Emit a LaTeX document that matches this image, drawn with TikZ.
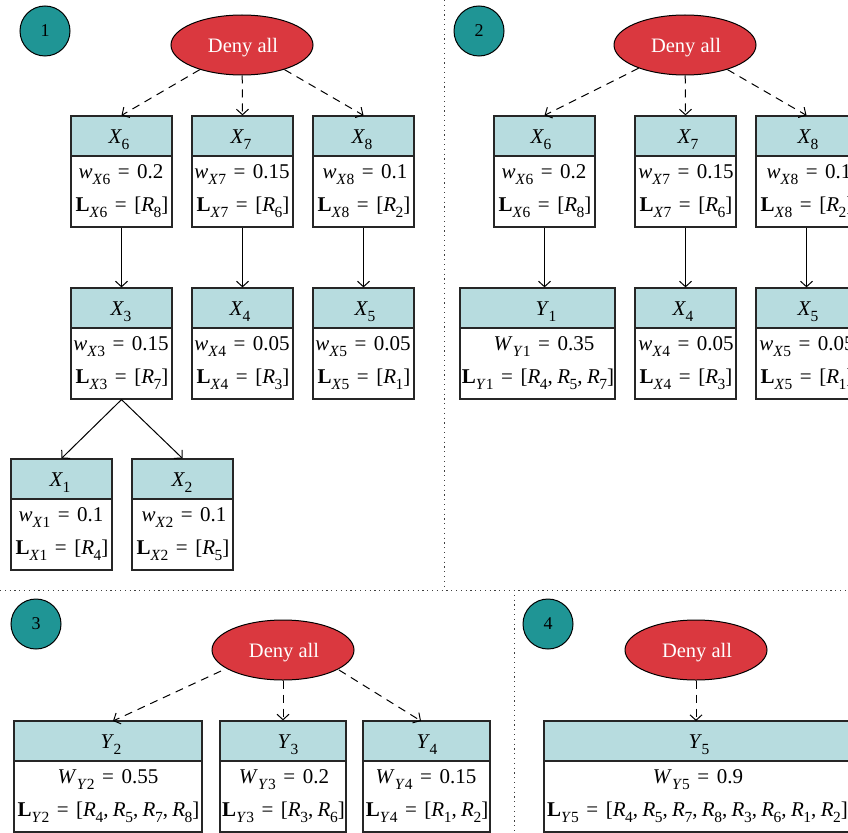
\documentclass[tikz,border=0pt]{standalone}
\usepackage{fontspec}
\setmainfont{Liberation Serif}
\usetikzlibrary{arrows.meta,shapes.geometric}
\definecolor{tealc}{HTML}{1F9595}
\definecolor{redc}{HTML}{DA383F}
\definecolor{headc}{HTML}{B7DCDF}
\newcommand\sbs[1]{\raisebox{-0.3em}{\fontsize{15.5}{15.5}\selectfont #1}}
\newcommand\XX[1]{\textit{X}\kern-0.5pt\sbs{#1}}
\newcommand\YY[1]{\textit{Y}\kern-0.5pt\sbs{#1}}
\newcommand\RR[1]{\textit{R}\kern-0.5pt\sbs{#1}}
\newcommand\cm{,\kern4.4pt}
\newcommand\eqs{\hspace{0.36em}=\hspace{0.36em}}
\newcommand\ww[3]{\textit{#1}\sbs{\textit{#2}#3}}
\newcommand\LL[2]{\textbf{L}\sbs{\textit{#1}#2}}
\newcommand\denytext{\raisebox{-2.5pt}[\height][\depth]{\kern2pt Deny all}}
\tikzset{
  x=1pt,y=-1pt,
  every node/.style={font=\fontsize{21}{21}\selectfont},
  boxh/.style={draw=black!85,line width=1.2pt,fill=headc,inner sep=0pt,rectangle},
  boxb/.style={draw=black!85,line width=1.2pt,fill=white,inner sep=0pt,rectangle},
  celltext/.style={inner sep=0pt,anchor=base},
  deny/.style={ellipse,draw=black,line width=1pt,fill=redc,text=white,minimum width=142pt,minimum height=60pt,inner sep=0pt,font=\fontsize{20.5}{20.5}\selectfont},
  badge/.style={circle,draw=black,line width=1pt,fill=tealc,minimum size=50pt,inner sep=0pt,font=\fontsize{18}{18}\selectfont},
  dasharrow/.style={line width=1pt,dash pattern=on 8pt off 6pt,-{Straight Barb[length=5.5pt,width=12pt,line width=1pt]}},
  solidarrow/.style={line width=1pt,-{Straight Barb[length=5.5pt,width=12pt,line width=1pt]}},
  sep/.style={line width=1pt,dash pattern=on 1.2pt off 3.6pt,black!75},
}
% name, xl, xr, ytop, header x, W x, header, line 1, line 2
\newcommand\tbl[9]{%
  \node[boxb,minimum width={#3-#2},minimum height=71pt] (#1b) at ({(#2+#3)/2},#4+75.5) {};
  \node[boxh,minimum width={#3-#2},minimum height=40pt] (#1) at ({(#2+#3)/2},#4+20) {};
  \node[celltext] (#1t) at (#5,#4+27) {#7};
  \node[celltext] (#1w) at (#6,#4+62) {#8};
  \node[celltext] (#1l) at ({(#2+#3)/2+0.5},#4+95) {#9};
}
\begin{document}
\begin{tikzpicture}
\useasboundingbox (0,0) rectangle (848,832);
\fill[white] (0,0) rectangle (848,832);
% separators
\coordinate (s1) at (444,0); \coordinate (s2) at (444,590);
\coordinate (s3) at (0,590); \coordinate (s4) at (848,590);
\coordinate (s5) at (514,590); \coordinate (s6) at (514,832);
\draw[sep] (s1) -- (s2);
\draw[sep] (s3) -- (s4);
\draw[sep] (s5) -- (s6);
% panel 1
\node[badge] (b1) at (45,31) {1};
\node[deny] (e1) at (242,45) {\denytext};
\tbl{aX6}{71}{172}{116}{119}{121}{\XX{6}}{\ww{w}{X}{6}\eqs 0.2}{\LL{X}{6}\eqs[\RR{8}]}
\tbl{aX7}{192}{293}{116}{241}{242}{\XX{7}}{\ww{w}{X}{7}\eqs 0.15}{\LL{X}{7}\eqs[\RR{6}]}
\tbl{aX8}{313}{414}{116}{362}{365}{\XX{8}}{\ww{w}{X}{8}\eqs 0.1}{\LL{X}{8}\eqs[\RR{2}]}
\tbl{aX3}{71}{172}{288}{121}{121}{\XX{3}}{\ww{w}{X}{3}\eqs 0.15}{\LL{X}{3}\eqs[\RR{7}]}
\tbl{aX4}{192}{293}{288}{240}{242}{\XX{4}}{\ww{w}{X}{4}\eqs 0.05}{\LL{X}{4}\eqs[\RR{3}]}
\tbl{aX5}{313}{414}{288}{365}{363}{\XX{5}}{\ww{w}{X}{5}\eqs 0.05}{\LL{X}{5}\eqs[\RR{1}]}
\tbl{aX1}{11}{112}{459}{60}{61}{\XX{1}}{\ww{w}{X}{1}\eqs 0.1}{\LL{X}{1}\eqs[\RR{4}]}
\tbl{aX2}{132}{233}{459}{182}{184}{\XX{2}}{\ww{w}{X}{2}\eqs 0.1}{\LL{X}{2}\eqs[\RR{5}]}
\draw[dasharrow] (e1) -- (aX6.north);
\draw[dasharrow] (e1) -- (aX7.north);
\draw[dasharrow] (e1) -- (aX8.north);
\draw[solidarrow] (aX6b.south) -- (aX3.north);
\draw[solidarrow] (aX7b.south) -- (aX4.north);
\draw[solidarrow] (aX8b.south) -- (aX5.north);
\draw[solidarrow] (aX3b.south) -- (aX1.north);
\draw[solidarrow] (aX3b.south) -- (aX2.north);
% panel 2
\node[badge] (b2) at (479,31) {2};
\node[deny] (e2) at (685,45) {\denytext};
\tbl{bX6}{494}{595}{116}{541}{544}{\XX{6}}{\ww{w}{X}{6}\eqs 0.2}{\LL{X}{6}\eqs[\RR{8}]}
\tbl{bX7}{635}{736}{116}{688}{686}{\XX{7}}{\ww{w}{X}{7}\eqs 0.15}{\LL{X}{7}\eqs[\RR{6}]}
\tbl{bX8}{756}{857}{116}{808}{809}{\XX{8}}{\ww{w}{X}{8}\eqs 0.1}{\LL{X}{8}\eqs[\RR{2}]}
\tbl{bY1}{460}{615}{288}{546}{544}{\YY{1}}{\ww{W}{Y}{1}\eqs 0.35}{\LL{Y}{1}\eqs[\RR{4}\cm\RR{5}\cm\RR{7}]}
\tbl{bX4}{635}{736}{288}{683}{686}{\XX{4}}{\ww{w}{X}{4}\eqs 0.05}{\LL{X}{4}\eqs[\RR{3}]}
\tbl{bX5}{756}{857}{288}{808}{807}{\XX{5}}{\ww{w}{X}{5}\eqs 0.05}{\LL{X}{5}\eqs[\RR{1}]}
\draw[dasharrow] (e2) -- (bX6.north);
\draw[dasharrow] (e2) -- (bX7.north);
\draw[dasharrow] (e2) -- (bX8.north);
\draw[solidarrow] (bX6b.south) -- (bX6b.south |- bY1.north);
\draw[solidarrow] (bX7b.south) -- (bX4.north);
\draw[solidarrow] (bX8b.south) -- (bX5.north);
% panel 3
\node[badge] (b3) at (36,624) {3};
\node[deny] (e3) at (283,650) {\denytext};
\tbl{cY2}{14}{202}{721}{111}{108}{\YY{2}}{\ww{W}{Y}{2}\eqs 0.55}{\LL{Y}{2}\eqs[\RR{4}\cm\RR{5}\cm\RR{7}\cm\RR{8}]}
\tbl{cY3}{220}{346}{721}{288}{284}{\YY{3}}{\ww{W}{Y}{3}\eqs 0.2}{\LL{Y}{3}\eqs[\RR{3}\cm\RR{6}]}
\tbl{cY4}{363}{490}{721}{427}{426}{\YY{4}}{\ww{W}{Y}{4}\eqs 0.15}{\LL{Y}{4}\eqs[\RR{1}\cm\RR{2}]}
\coordinate (c2in) at (113,721); \coordinate (c4in) at (421,721);
\coordinate (c2out) at (221,671); \coordinate (c4out) at (339,670);
\draw[dasharrow] (c2out) -- (c2in);
\draw[dasharrow] (e3) -- (cY3.north);
\draw[dasharrow] (c4out) -- (c4in);
% panel 4
\node[badge] (b4) at (548,624) {4};
\node[deny] (e4) at (696,650) {\denytext};
\tbl{dY5}{544}{850}{721}{699}{698}{\YY{5}}{\ww{W}{Y}{5}\eqs 0.9}{\LL{Y}{5}\eqs[\RR{4}\cm\RR{5}\cm\RR{7}\cm\RR{8}\cm\RR{3}\cm\RR{6}\cm\RR{1}\cm\RR{2}]}
\coordinate (d5in) at (696,721);
\draw[dasharrow] (e4) -- (d5in);
\end{tikzpicture}
\end{document}
